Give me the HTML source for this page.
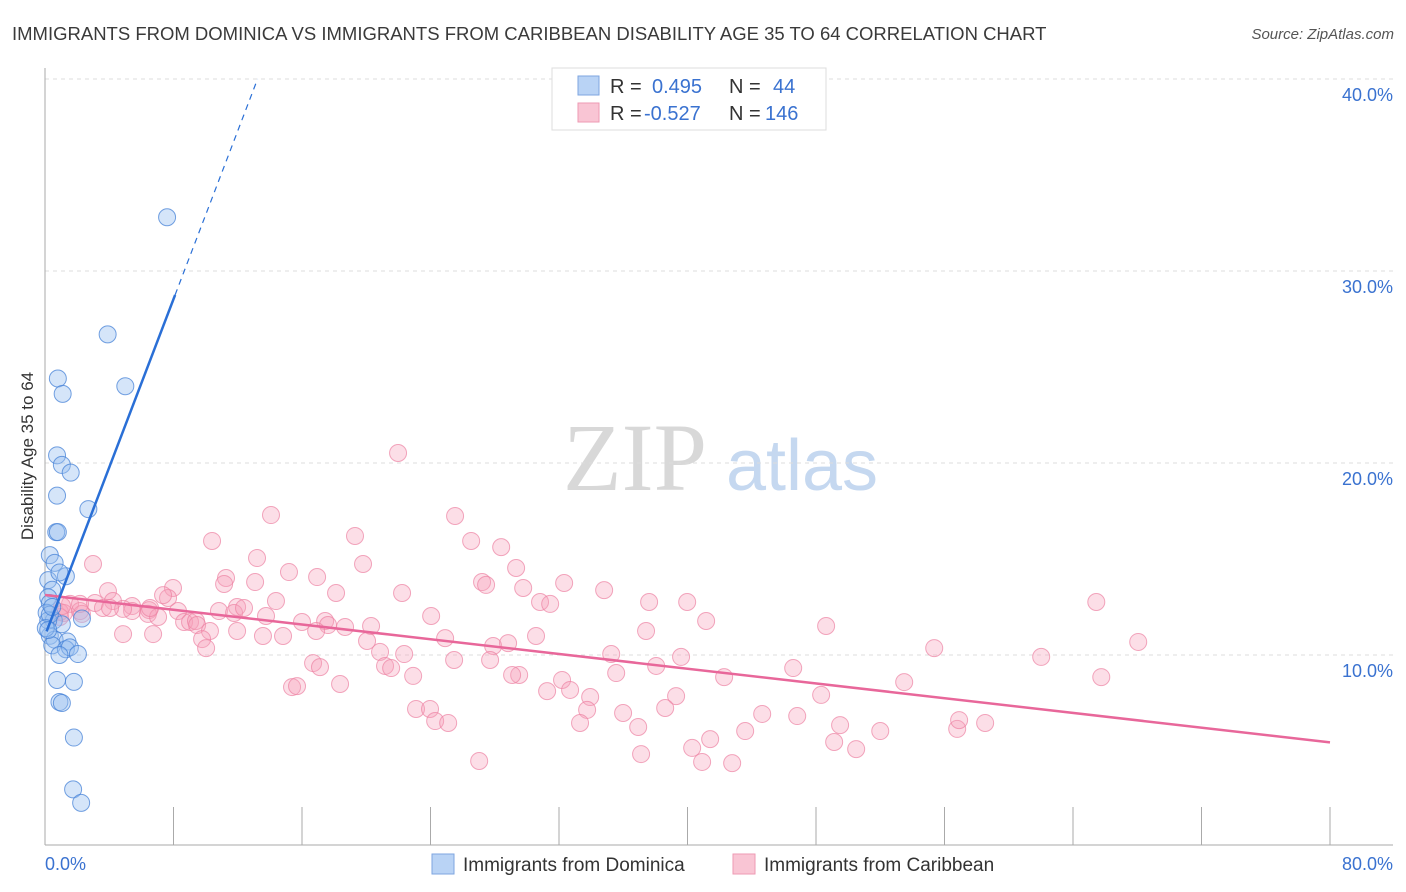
<!DOCTYPE html>
<html><head><meta charset="utf-8">
<style>
body{margin:0;background:#fff;font-family:"Liberation Sans",sans-serif;}
#wrap{position:relative;width:1406px;height:892px;overflow:hidden;}
</style></head>
<body>
<div id="wrap">
<svg id="chart" width="1406" height="892" xmlns="http://www.w3.org/2000/svg">
<text x="12" y="40" font-size="18.5" fill="#3a3a3a">IMMIGRANTS FROM DOMINICA VS IMMIGRANTS FROM CARIBBEAN DISABILITY AGE 35 TO 64 CORRELATION CHART</text>
<text x="1394" y="39" font-size="15" fill="#555" font-style="italic" text-anchor="end">Source: ZipAtlas.com</text>
<text transform="translate(33,456) rotate(-90)" font-size="17" fill="#333" text-anchor="middle">Disability Age 35 to 64</text>
<g>
<text x="635" y="490" font-size="96" font-family="Liberation Serif,serif" fill="#d8d8d8" text-anchor="middle">ZIP</text>
<text x="802" y="490" font-size="72" fill="#c5d8f0" text-anchor="middle">atlas</text>
</g>
<g id="grid"></g>
<g id="axes"></g>
<g id="pts"></g>
<g id="lines"></g>
<g>
<rect x="552" y="68" width="274" height="62" fill="#fff" stroke="#ddd"/>
<rect x="578" y="76" width="21" height="19" fill="#b9d3f5" stroke="#7ea6e0"/>
<rect x="578" y="103" width="21" height="19" fill="#f9c5d4" stroke="#ee9ab3"/>
<text x="610" y="93" font-size="20" fill="#333">R =</text>
<text x="652" y="93" font-size="20" fill="#3a72d0">0.495</text>
<text x="729" y="93" font-size="20" fill="#333">N =</text>
<text x="773" y="93" font-size="20" fill="#3a72d0">44</text>
<text x="610" y="120" font-size="20" fill="#333">R =</text>
<text x="644" y="120" font-size="20" fill="#3a72d0">-0.527</text>
<text x="729" y="120" font-size="20" fill="#333">N =</text>
<text x="765" y="120" font-size="20" fill="#3a72d0">146</text>
</g>
<g>
<rect x="432" y="854" width="22" height="20" fill="#b9d3f5" stroke="#7ea6e0"/>
<text x="463" y="871" font-size="19" fill="#333">Immigrants from Dominica</text>
<rect x="733" y="854" width="22" height="20" fill="#f9c5d4" stroke="#ee9ab3"/>
<text x="764" y="871" font-size="19" fill="#333">Immigrants from Caribbean</text>
</g>
</svg>
</div>
<script>
const xTickLabels = ["0.0%","80.0%"];
const yTickValues = [10,20,30,40];
const yTickLabels = ["10.0%","20.0%","30.0%","40.0%"];
const domX = [0.1,3.9,5.0,0.8,1.1,0.75,1.05,1.6,0.75,2.7,0.7,0.8,0.3,0.6,0.2,1.3,0.45,0.9,0.2,0.3,0.1,0.55,2.3,1.05,0.3,0.6,1.4,0.45,1.3,1.55,2.05,0.9,0.75,1.8,0.9,1.05,1.8,1.75,2.25,0.2,0.3,0.05,0.45,0.2];
domX[0]=7.6;
const domY = [32.8,26.7,24.0,24.4,23.6,20.4,19.9,19.5,18.3,17.6,16.4,16.4,15.2,14.8,13.9,14.1,13.4,14.3,13.0,12.7,12.2,11.8,11.9,11.6,11.0,10.8,10.7,10.5,10.3,10.4,10.05,10.0,8.7,8.6,7.55,7.5,5.7,3.0,2.3,11.8,12.1,11.4,12.5,11.3];
const carX = [21.98,14.07,25.53,19.30,10.40,26.53,28.40,13.20,19.80,2.99,29.33,15.19,16.94,11.27,27.21,27.46,32.32,34.81,7.97,3.92,18.12,22.23,13.08,11.15,7.66,7.35,14.38,29.77,30.82,31.45,37.61,39.98,65.45,1.56,3.11,4.23,5.42,6.48,5.42,4.86,0.93,1.18,2.18,3.61,6.41,8.28,10.83,11.96,11.77,12.39,13.76,16.00,17.44,18.68,20.30,24.04,41.16,48.63,0.93,2.30,7.04,8.66,9.03,9.40,9.47,17.62,10.27,11.96,13.57,14.82,4.86,6.73,9.78,10.03,16.88,20.05,20.86,22.36,24.91,27.90,28.83,30.57,37.42,68.06,55.36,35.25,39.60,62.02,38.05,25.47,27.71,21.17,21.55,16.69,17.12,29.52,32.19,29.08,22.92,35.56,42.28,46.58,53.49,65.76,18.37,15.38,15.69,31.26,32.69,33.94,39.29,48.32,23.10,23.97,33.75,35.99,38.61,44.65,46.83,24.29,25.10,33.31,36.93,43.59,49.50,56.79,58.53,56.91,41.41,49.13,52.00,40.29,50.50,37.11,40.91,42.78,27.03,2.18,4.05,1.06,6.54];
const carY = [20.52,17.29,17.24,16.20,15.94,15.94,15.62,15.05,14.74,14.74,14.53,14.32,14.06,14.01,13.80,13.65,13.75,13.38,13.49,13.33,13.23,13.23,13.80,13.70,12.97,13.12,12.81,13.49,12.76,12.66,12.76,12.76,12.76,12.66,12.71,12.81,12.55,12.34,12.29,12.40,12.24,12.19,12.29,12.45,12.14,12.29,12.29,12.50,12.19,12.45,12.03,11.72,11.77,11.46,11.51,12.03,11.77,11.51,11.98,12.14,11.98,11.72,11.72,11.77,11.56,11.56,11.25,11.25,10.99,10.99,11.09,11.09,10.83,10.36,11.25,10.73,10.16,10.05,10.88,10.47,10.62,10.99,11.25,10.68,10.36,10.05,9.90,9.90,9.43,9.74,9.74,9.43,9.32,9.58,9.37,8.96,8.70,8.96,8.91,9.06,8.85,9.32,8.59,8.85,8.49,8.33,8.38,8.12,8.18,7.81,7.86,7.92,7.19,7.19,7.14,6.98,7.24,6.93,6.82,6.56,6.46,6.46,6.25,6.04,6.35,6.15,6.46,6.61,5.62,5.47,6.04,5.16,5.10,4.84,4.43,4.37,4.48,12.66,12.45,12.55,12.45];

const NS="http://www.w3.org/2000/svg";
const X0=45, XS=(1330-45)/80, Y0=847, YS=19.2;
function sx(v){return X0+v*XS;}
function sy(v){return Y0-v*YS;}
function mk(tag,attrs,parent){const e=document.createElementNS(NS,tag);for(const k in attrs)e.setAttribute(k,attrs[k]);parent.appendChild(e);return e;}
const grid=document.getElementById('grid'), axes=document.getElementById('axes'), pts=document.getElementById('pts'), lines=document.getElementById('lines');
yTickValues.forEach((v,i)=>{
  const l=mk('line',{x1:45,x2:1393,y1:sy(v),y2:sy(v),stroke:'#ddd','stroke-dasharray':'4,4'},grid);
  
  
  const t=mk('text',{x:1393,y:sy(v)+22,'font-size':18,fill:'#3a72d0','text-anchor':'end'},axes);
  t.textContent=yTickLabels[i];
  
  
});
const ya=mk('line',{x1:45,x2:45,y1:68,y2:845,stroke:'#aaa'},axes);


const xa=mk('line',{x1:45,x2:1393,y1:845,y2:845,stroke:'#aaa'},axes);


for(let i=1;i<=10;i++){
  const t=mk('line',{x1:sx(i*8),x2:sx(i*8),y1:807,y2:845,stroke:'#aaa'},axes);
  
  
}
const xl0=mk('text',{x:45,y:870,'font-size':18,fill:'#3a72d0'},axes);
xl0.textContent=xTickLabels[0];


const xl1=mk('text',{x:1393,y:870,'font-size':18,fill:'#3a72d0','text-anchor':'end'},axes);
xl1.textContent=xTickLabels[1];



carX.forEach((x,i)=>{
  const c=mk('circle',{cx:sx(x),cy:sy(carY[i]),r:8.5,fill:'rgba(246,160,186,0.35)',stroke:'rgba(236,130,162,0.7)','stroke-width':1},pts);
  
  
});
domX.forEach((x,i)=>{
  const c=mk('circle',{cx:sx(x),cy:sy(domY[i]),r:8.5,fill:'rgba(150,190,240,0.4)',stroke:'rgba(70,130,215,0.75)','stroke-width':1},pts);
  
  
});
function fit(xs,ys){const n=xs.length;let mx=0,my=0;for(let i=0;i<n;i++){mx+=xs[i];my+=ys[i];}mx/=n;my/=n;let a=0,b=0;for(let i=0;i<n;i++){a+=(xs[i]-mx)*(ys[i]-my);b+=(xs[i]-mx)**2;}const s=a/b;return [s,my-s*mx];}
const [cs,ci]=fit(carX,carY);
const cl=mk('line',{x1:sx(0),y1:sy(ci),x2:sx(80),y2:sy(ci+cs*80),stroke:'#e8679a','stroke-width':2.5},lines);


const [ds,di]=fit(domX,domY);
const xmax=Math.max(...domX)+0.5;
const dl=mk('line',{x1:sx(0.1),y1:sy(di+ds*0.1),x2:sx(xmax),y2:sy(di+ds*xmax),stroke:'#2a6fd6','stroke-width':2.5},lines);


const xend=(40-di)/ds;
const dd=mk('line',{x1:sx(xmax),y1:sy(di+ds*xmax),x2:sx(xend),y2:sy(40),stroke:'#2a6fd6','stroke-width':1.2,'stroke-dasharray':'6,5'},lines);


</script>
</body></html>
